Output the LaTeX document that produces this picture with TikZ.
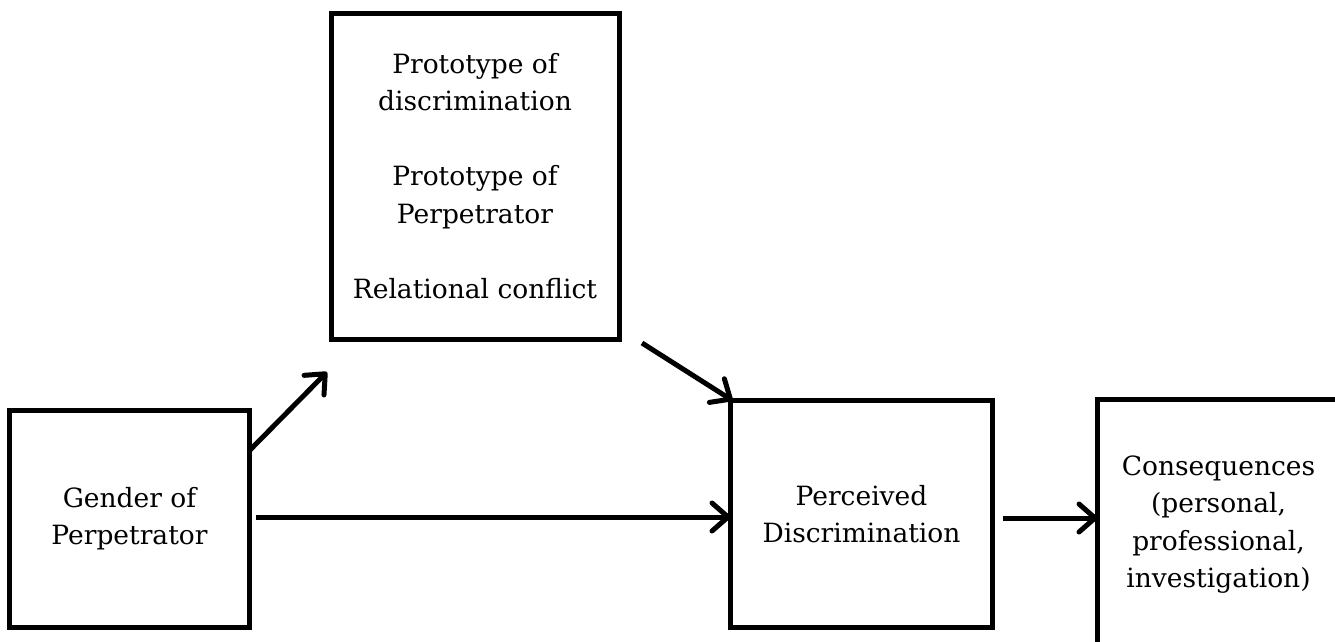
\documentclass[tikz,border=0pt]{standalone}
\usepackage{fontspec}
\setmainfont{DejaVu Serif}
\usetikzlibrary{arrows.meta,calc}
\begin{document}
\begin{tikzpicture}[x=1pt,y=-1pt,
  box/.style={draw=black,line width=5pt,rectangle,outer sep=0pt,inner sep=0pt,align=center,
    font=\fontsize{26.5}{37.5}\selectfont},
  arr/.style={line width=5pt,-{Straight Barb[length=16pt,width=28pt,line width=5pt,round]}}]
\useasboundingbox (0,0) rectangle (1335,641);
\clip (0,0) rectangle (1335,641);
\node[box,minimum width=240pt,minimum height=217pt] (gender) at (129.5,518.5) {Gender of\\Perpetrator};
\node[box,minimum width=288pt,minimum height=326pt] (proto) at (475,176)
  {Prototype of\\discrimination\\[37.5pt]Prototype of\\Perpetrator\\[37.5pt]Relational conflict};
\node[box,minimum width=262pt,minimum height=227pt] (perceived) at (861.5,514) {Perceived\\Discrimination};
\node[box,minimum width=242pt,minimum height=250pt] (cons) at (1218.5,524.5)
  {Consequences\\(personal,\\professional,\\investigation)};
\draw[arr] ($(gender.north east)+(0.5,40)$) -- ($(proto.south west)+(-4,33)$);
\draw[arr] ($(proto.south east)+(23,4)$) -- ($(perceived.north west)+(2,0)$);
\draw[arr] ($(gender.east)+(6,-1.5)$) coordinate (s3) -- (s3 -| perceived.west);
\draw[arr] ($(perceived.east)+(10,4)$) coordinate (s4) -- (s4 -| cons.west);
\end{tikzpicture}
\end{document}
